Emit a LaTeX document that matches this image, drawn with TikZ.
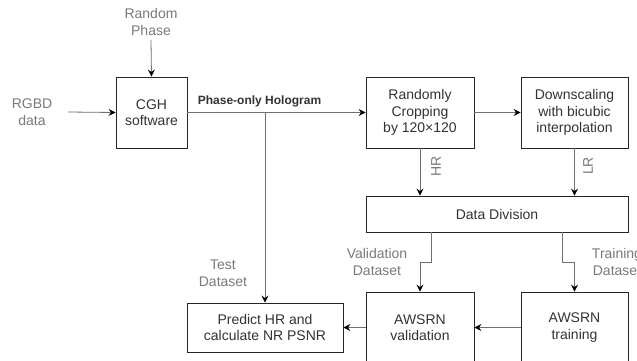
\documentclass[tikz,border=0pt]{standalone}
\usepackage{fontspec}
\setmainfont{Liberation Sans}
\usetikzlibrary{arrows.meta,calc}
\definecolor{boxtext}{HTML}{333333}
\definecolor{labeltext}{HTML}{7A7A7A}
\definecolor{wirecol}{HTML}{707070}
\begin{document}
\begin{tikzpicture}[x=1pt,y=-1pt,
  stage/.style={draw=black!85, line width=0.9pt, fill=white, text=boxtext,
    font=\fontsize{14}{16.5}\selectfont, align=center, inner sep=0pt},
  note/.style={text=labeltext, font=\fontsize{14}{17}\selectfont,
    align=center, inner sep=0pt},
  wire/.style={draw=wirecol, line width=0.8pt,
    -{Stealth[length=7pt,width=7pt,inset=2.5pt,color=black]}}
]
% canvas
\useasboundingbox (0,0) rectangle (637,360);
\clip (0,0) rectangle (637,360);
\fill[white] (0,0) rectangle (637,360);

% processing stages
\node[stage, minimum width=71pt, minimum height=71pt] (cgh) at (151.5,112.5) {CGH\\software};
\node[stage, minimum width=108pt, minimum height=71pt] (rc) at (420,112.5) {Randomly\\Cropping\\by 120×120};
\node[stage, minimum width=107pt, minimum height=71pt] (ds) at (574.5,112.5) {Downscaling\\with bicubic\\interpolation};
\node[stage, minimum width=262pt, minimum height=36pt] (dd) at (497,214) {Data Division};
\node[stage, minimum width=108pt, minimum height=71pt] (val) at (420,327.5) {AWSRN\\validation};
\node[stage, minimum width=107pt, minimum height=71pt] (tr) at (574.5,327.5) {AWSRN\\training};
\node[stage, minimum width=156pt, minimum height=49pt] (pr) at (265,327.5) {Predict HR and\\calculate NR PSNR};

% inputs and edge labels
\node[note, minimum height=36pt] (rp) at (151,22) {Random\\Phase};
\node[note, minimum width=72pt] (rgbd) at (32,112) {RGBD\\data};
\node[inner sep=0pt, text=boxtext, font=\bfseries\fontsize{12}{14}\selectfont] (holo) at (259.5,101) {Phase-only Hologram};
\node[note, rotate=90] (hr) at (436,166) {HR};
\node[note, rotate=90] (lr) at (588,166) {LR};
\node[note] (vd) at (377,262) {Validation\\Dataset};
\node[note] (td) at (617,262) {Training\\Dataset};
\node[note] (ts) at (223,273) {Test\\Dataset};

% connectors
\draw[wire] (rp.south) -- (cgh.north);
\draw[wire] (rgbd.east) -- (cgh.west);
\draw[wire] (cgh.east) -- (rc.west);
\coordinate (tap) at (cgh.east -| pr.north);
\draw[wire] (tap) -- (pr.north);
\draw[wire] (rc.east) -- (ds.west);
\draw[wire] (rc.south) -- (rc.south |- dd.north);
\draw[wire] (ds.south) -- (ds.south |- dd.north);
\coordinate (vout) at ($(dd.south west)+(66,0)$);
\draw[wire] (vout) -- ++(0,30) -| (val.north);
\coordinate (tout) at ($(dd.south west)+(197,0)$);
\draw[wire] (tout) -- ++(0,30) -| (tr.north);
\draw[wire] (tr.west) -- (val.east);
\draw[wire] (val.west) -- (pr.east);
\end{tikzpicture}
\end{document}
